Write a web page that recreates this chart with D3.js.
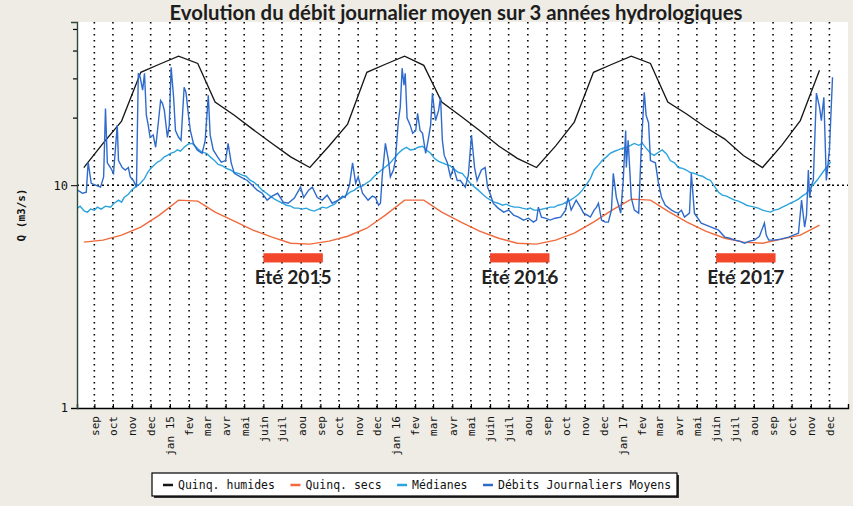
<!DOCTYPE html>
<html>
<head>
<meta charset="utf-8">
<script src="https://cdn.jsdelivr.net/npm/d3@7"></script>
<style>
  body { margin: 0; background: #eeece5; }
  svg { display: block; }
</style>
</head>
<body>
<div id="chart"></div>
<script>

// month labels on the x axis
const monthNames = ['jan', 'fev', 'mar', 'avr', 'mai', 'juin', 'juil', 'aou', 'sep', 'oct', 'nov', 'dec'];
const summers = [2015, 2016, 2017];

// quinquennial envelopes, one value per mid-month
const envelopeDates = [
  '2014-08-15', '2014-09-15', '2014-10-15', '2014-11-15', '2014-12-15', '2015-01-15', '2015-02-15', '2015-03-15',
  '2015-04-15', '2015-05-15', '2015-06-15', '2015-07-15', '2015-08-15', '2015-09-15', '2015-10-15', '2015-11-15',
  '2015-12-15', '2016-01-15', '2016-02-15', '2016-03-15', '2016-04-15', '2016-05-15', '2016-06-15', '2016-07-15',
  '2016-08-15', '2016-09-15', '2016-10-15', '2016-11-15', '2016-12-15', '2017-01-15', '2017-02-15', '2017-03-15',
  '2017-04-15', '2017-05-15', '2017-06-15', '2017-07-15', '2017-08-15', '2017-09-15', '2017-10-15', '2017-11-15'
];
const quinqHumides = [
  12.0, 15.4, 19.4, 32.1, 34.9, 37.9, 35.2, 23.6, 20.6, 17.8, 15.4, 13.4,
  12.0, 15.0, 18.8, 32.1, 34.9, 37.9, 34.5, 23.6, 20.4, 17.6, 15.0, 13.2,
  12.0, 15.0, 19.2, 32.1, 34.9, 37.9, 35.2, 23.6, 20.8, 18.2, 16.1, 13.6,
  12.0, 15.1, 19.5, 32.8
];
const quinqSecs = [
  5.55, 5.67, 5.97, 6.48, 7.34, 8.57, 8.48, 7.57, 6.89, 6.28, 5.85, 5.49,
  5.44, 5.61, 5.90, 6.41, 7.34, 8.57, 8.57, 7.57, 6.83, 6.22, 5.78, 5.49,
  5.44, 5.67, 6.09, 6.83, 7.73, 8.66, 8.57, 7.65, 6.83, 6.22, 5.78, 5.55,
  5.49, 5.73, 5.97, 6.62
];

// days counted from 1 Sep 2014
const recordStart = '2014-09-01';

const medianDays = [
  -27, -23, -16, -11, -6, 0, 5, 11, 18, 26, 32, 39, 44, 48, 55, 60, 66, 73, 78, 81, 86, 90, 95, 102, 107, 113,
  118, 123, 129, 134, 139, 145, 152, 158, 163, 168, 174, 181, 187, 194, 200, 207, 213, 220, 226, 233, 239, 245,
  252, 258, 265, 271, 278, 284, 291, 297, 304, 310, 317, 323, 329, 336, 342, 349, 355, 362, 368, 375, 381, 388,
  394, 401, 407, 413, 420, 426, 433, 439, 446, 452, 459, 465, 472, 478, 484, 491, 497, 504, 510, 517, 523, 530,
  536, 543, 549, 556, 562, 568, 575, 581, 588, 594, 601, 607, 614, 620, 627, 633, 640, 646, 652, 659, 665, 672,
  678, 685, 691, 698, 704, 710, 717, 723, 730, 736, 743, 749, 756, 762, 769, 775, 782, 788, 795, 801, 807, 814,
  820, 827, 833, 840, 846, 853, 859, 866, 872, 879, 885, 891, 898, 904, 911, 917, 924, 930, 937, 943, 950, 956,
  962, 969, 975, 982, 988, 995, 1001, 1008, 1014, 1021, 1027, 1034, 1040, 1047, 1053, 1059, 1066, 1072, 1079,
  1085, 1092, 1098, 1105, 1111, 1118, 1124, 1131, 1137, 1143, 1150, 1156, 1163, 1169, 1176, 1182, 1189
];
const medianValues = [
  7.89, 8.05, 7.65, 7.57, 7.81, 7.73, 7.97, 7.81, 8.05, 7.97, 8.30, 8.57, 8.39, 8.8, 9.11, 9.5, 9.8, 10.1, 10.5, 10.7, 11.4, 11.8, 12.2, 12.7, 12.9, 13.4,
  13.6, 13.9, 14.06, 14.4, 14.2, 14.8, 15.3, 15.4, 14.96, 14.5, 14.06, 13.9, 13.4, 12.9, 12.4, 12.2, 11.9, 11.7, 11.4, 11.3, 11.1, 10.97,
  10.5, 10.3, 9.9, 9.5, 9.2, 8.93, 8.66, 8.48, 8.30, 8.13, 8.05, 7.89, 7.89, 7.81, 7.89, 7.73, 7.65, 7.81, 7.97, 7.89, 8.05, 8.22,
  8.57, 8.8, 9.02, 9.3, 9.5, 9.8, 9.9, 10.2, 10.5, 10.97, 11.4, 11.8, 12.2, 12.6, 13.2, 13.9, 14.4, 14.8, 14.4, 14.5, 14.8, 14.96,
  14.4, 13.9, 13.2, 12.8, 12.6, 12.4, 12.2, 11.8, 11.4, 11.3, 10.7, 10.2, 9.8, 9.5, 9.11, 8.8, 8.57, 8.39, 8.30, 8.13, 8.22, 8.05,
  7.97, 7.97, 7.89, 7.81, 7.89, 7.73, 7.73, 7.81, 7.89, 7.97, 7.97, 8.13, 8.22, 8.39, 8.57, 8.8, 9.11, 9.5, 10.1, 10.7, 11.7, 12.3,
  12.9, 13.4, 13.9, 14.2, 14.4, 14.66, 14.8, 15.1, 15.4, 15.1, 15.4, 14.66, 13.9, 13.6, 14.06, 14.4, 13.8, 12.9, 12.6, 12.0, 11.9, 11.7,
  11.4, 11.3, 11.1, 10.97, 10.7, 10.5, 9.9, 9.3, 9.02, 8.93, 8.75, 8.57, 8.48, 8.30, 8.13, 8.05, 7.97, 7.89, 7.73,
  7.65, 7.57, 7.73, 7.81, 7.97, 8.13, 8.30, 8.48, 8.66, 8.93, 9.2, 9.7, 10.2, 10.7, 11.4, 12.0, 12.7
];

const flowDays = [
  -27, -19, -13, -10, -5, 2, 10, 15, 18, 21, 26, 31, 37, 39, 45, 50, 55, 58, 63, 68, 71, 74, 78, 81, 84, 87, 90, 95,
  99, 102, 107, 110, 113, 118, 121, 124, 128, 131, 136, 140, 145, 148, 152, 155, 160, 166, 174, 179, 184, 187, 192,
  199, 205, 212, 216, 221, 226, 236, 247, 255, 263, 271, 279, 287, 296, 305, 313, 323, 333, 338, 346, 352, 360,
  368, 376, 384, 394, 401, 405, 412, 417, 422, 426, 433, 442, 449, 454, 459, 462, 465, 470, 475, 478, 483, 486,
  491, 494, 497, 500, 502, 505, 510, 514, 519, 522, 526, 530, 535, 539, 543, 546, 549, 551, 556, 559, 562, 565,
  570, 575, 580, 586, 591, 599, 604, 609, 614, 618, 625, 631, 635, 640, 644, 652, 661, 669, 677, 685, 693, 701,
  709, 714, 717, 722, 728, 736, 744, 753, 761, 765, 770, 778, 785, 790, 796, 801, 807, 811, 814, 819, 825, 830,
  835, 838, 843, 850, 854, 858, 859, 862, 867, 872, 879, 883, 888, 891, 895, 898, 906, 911, 916, 922, 932, 938,
  943, 948, 953, 961, 964, 969, 980, 988, 996, 1008, 1018, 1026, 1034, 1042, 1050, 1058, 1066, 1074, 1082, 1085,
  1089, 1098, 1108, 1121, 1129, 1137, 1142, 1147, 1150, 1153, 1155, 1158, 1161, 1166, 1171, 1174, 1178, 1182,
  1187, 1192
];
const flowValues = [
  9.5, 9.2, 9.3, 12.7, 10.2, 10.0, 9.8, 10.9, 22.1, 12.6, 12.0, 11.3, 18.6, 12.9, 12.0, 11.7, 12.0, 10.9, 10.5, 9.8, 31.8, 30.5, 26.7, 31.8, 20.6, 18.6, 16.4, 16.8,
  14.8, 17.6, 24.0, 23.3, 21.7, 16.4, 18.6, 33.8, 24.8, 17.6, 16.4, 15.9, 27.5, 26.1, 20.6, 17.6, 15.4, 14.4, 13.9, 15.9, 25.3, 16.8, 14.4,
  13.4, 12.7, 12.9, 15.4, 12.6, 11.3, 10.9, 10.5, 10.0, 9.5, 9.2, 8.57, 8.93, 9.2, 8.39, 8.30, 8.75, 9.8, 8.8, 9.5, 9.8, 8.8,
  8.57, 9.02, 8.30, 8.57, 8.93, 8.8, 10.0, 12.6, 10.2, 10.9, 9.2, 8.57, 8.93, 8.8, 8.13, 8.30, 11.1, 15.4, 12.9, 10.9, 11.7, 12.9,
  19.5, 22.4, 33.5, 28.1, 31.8, 20.0, 18.6, 17.1, 17.6, 21.0, 17.6, 17.1, 13.9, 15.9, 18.6, 25.9, 21.7, 19.5, 21.7, 24.8, 15.9, 13.6,
  12.6, 10.9, 12.0, 10.5, 10.5, 9.8, 11.1, 16.8, 12.0, 10.5, 11.7, 12.0, 9.8, 9.02, 8.30, 7.89, 7.57, 7.73, 7.34, 7.19, 6.97, 7.11,
  6.83, 6.97, 7.97, 7.19, 7.11, 6.97, 7.11, 7.19, 7.73, 8.8, 7.73, 8.57, 7.97, 7.49, 7.34, 7.19, 7.73, 7.97, 8.30, 6.97, 6.83, 6.83,
  7.73, 11.3, 8.8, 7.49, 10.5, 17.6, 12.0, 15.9, 8.8, 7.73, 7.49, 14.4, 26.1, 20.6, 19.0, 12.9, 12.6, 10.2, 8.8, 8.13, 7.73, 7.57,
  7.49, 7.73, 7.19, 7.49, 11.3, 7.49, 6.76, 6.62, 6.48, 6.28, 5.85, 5.78, 5.67, 5.61, 5.49, 5.61, 5.67, 5.90, 6.76, 5.97,
  5.67, 5.67, 5.73, 5.85, 5.97, 6.09, 8.57, 6.48, 7.34, 11.7, 8.8, 10.0, 10.5, 25.9, 22.4, 19.5, 24.8, 10.5,
  14.4, 30.5
];

const legendLabels = ['Quinq. humides', 'Quinq. secs', 'Médianes', 'Débits Journaliers Moyens'];
const seriesColors = ['#151515', '#f06a3c', '#2ba3df', '#2f6bcc'];

const width = 853;
const height = 506;
const plot = { left: 77, right: 848, top: 22, bottom: 408 };
const mono = '"DejaVu Sans Mono", "Liberation Mono", monospace';
const sans = 'Lato, "Open Sans", sans-serif';

const parseDate = d3.timeParse('%Y-%m-%d');
const start = parseDate(recordStart);

const envelope = envelopeDates.map((d, i) => ({ date: parseDate(d), hum: quinqHumides[i], sec: quinqSecs[i] }));
const medians = medianDays.map((d, i) => ({ date: d3.timeDay.offset(start, d), value: medianValues[i] }));
const flows = flowDays.map((d, i) => ({ date: d3.timeDay.offset(start, d), value: flowValues[i] }));

const svg = d3.select('#chart')
              .append('svg')
              .attr('width', width)
              .attr('height', height);

svg.append('rect')
   .attr('width', width)
   .attr('height', height)
   .attr('fill', '#eeece5');

const xScale = d3.scaleTime()
                 .domain([new Date(2014, 7, 4), new Date(2017, 11, 31)])
                 .range([plot.left, plot.right]);

const yScale = d3.scaleLog()
                 .domain([1, 54])
                 .range([plot.bottom, plot.top]);

svg.append('rect')
   .attr('x', plot.left)
   .attr('y', plot.top)
   .attr('width', plot.right - plot.left)
   .attr('height', plot.bottom - plot.top)
   .attr('fill', '#ffffff');

const months = d3.timeMonth.range(new Date(2014, 8, 1), new Date(2017, 11, 2));

// dotted grid
svg.append('g')
   .selectAll('line')
   .data(months)
   .enter()
   .append('line')
   .attr('x1', (d) => xScale(d))
   .attr('x2', (d) => xScale(d))
   .attr('y1', plot.top)
   .attr('y2', plot.bottom)
   .attr('stroke', '#000')
   .attr('stroke-width', 1.6)
   .attr('stroke-dasharray', '1.6,4.4');

svg.append('line')
   .attr('x1', plot.left)
   .attr('x2', plot.right)
   .attr('y1', yScale(10))
   .attr('y2', yScale(10))
   .attr('stroke', '#000')
   .attr('stroke-width', 1.4)
   .attr('stroke-dasharray', '2,3');

// summer markers
const summerBars = svg.append('g');
summers.forEach((yr) => {
  const x0 = xScale(new Date(yr, 5, 1));
  const x1 = xScale(new Date(yr, 8, 5));
  summerBars.append('rect')
            .attr('x', x0)
            .attr('y', yScale(4.95))
            .attr('width', x1 - x0)
            .attr('height', yScale(4.5) - yScale(4.95))
            .attr('fill', '#f2472b');
  const label = summerBars.append('text')
            .attr('x', (x0 + x1) / 2)
            .attr('y', yScale(3.6))
            .attr('text-anchor', 'middle')
            .style('font-family', sans)
            .style('font-weight', 'bold')
            .style('font-size', '18px')
            .attr('fill', '#222')
            .text('Eté ' + yr);
  const w = label.node().getComputedTextLength();
  label.style('font-size', (18 * 77 / w).toFixed(2) + 'px');
});

// series
const line = (key) => d3.line()
                       .x((d) => xScale(d.date))
                       .y((d) => yScale(d[key]));

svg.append('path')
   .datum(envelope)
   .attr('d', line('sec'))
   .attr('fill', 'none')
   .attr('stroke', seriesColors[1])
   .attr('stroke-width', 1.4);

svg.append('path')
   .datum(envelope)
   .attr('d', line('hum'))
   .attr('fill', 'none')
   .attr('stroke', seriesColors[0])
   .attr('stroke-width', 1.3);

svg.append('path')
   .datum(medians)
   .attr('d', line('value'))
   .attr('fill', 'none')
   .attr('stroke', seriesColors[2])
   .attr('stroke-width', 1.4);

svg.append('path')
   .datum(flows)
   .attr('d', line('value'))
   .attr('fill', 'none')
   .attr('stroke', seriesColors[3])
   .attr('stroke-width', 1.4);

// axes
const xAxis = d3.axisBottom(xScale)
                .tickValues(months)
                .tickSize(-4)
                .tickFormat((d) => {
                  const name = monthNames[d.getMonth()];
                  return d.getMonth() === 0 ? name + ' ' + d3.timeFormat('%y')(d) : name;
                });

const gx = svg.append('g')
   .attr('transform', 'translate(0, ' + plot.bottom + ')')
   .call(xAxis)
   .attr('id', 'x-axis');
gx.select('.domain').attr('stroke', '#000').attr('stroke-width', 1.4);
gx.selectAll('.tick line').attr('stroke-width', 1.2);
gx.selectAll('text')
  .attr('transform', 'rotate(-90)')
  .attr('x', -8)
  .attr('y', 0)
  .attr('dy', '0.35em')
  .style('text-anchor', 'end')
  .style('font-family', mono)
  .style('font-size', '11px')
  .attr('fill', '#111');

const yAxis = d3.axisLeft(yScale)
                .tickValues([1, 10])
                .tickFormat(d3.format('d'))
                .tickSize(6)
                .tickPadding(3);

const gy = svg.append('g')
   .attr('transform', 'translate(' + plot.left + ', 0)')
   .call(yAxis)
   .attr('id', 'y-axis');
gy.select('.domain').attr('stroke', '#2c4a3a').attr('stroke-width', 1.4);
gy.selectAll('text')
  .style('font-family', mono)
  .style('font-size', '12px')
  .attr('fill', '#111');

gy.selectAll('.minor')
  .data([20, 30, 40, 50])
  .enter()
  .append('line')
  .attr('class', 'minor')
  .attr('x1', -4)
  .attr('x2', 0)
  .attr('y1', (d) => yScale(d))
  .attr('y2', (d) => yScale(d))
  .attr('stroke', '#000')
  .attr('stroke-width', 1.2);

svg.append('text')
   .attr('transform', 'translate(25, 215) rotate(-90)')
   .attr('text-anchor', 'middle')
   .style('font-family', mono)
   .style('font-weight', 'bold')
   .style('font-size', '11px')
   .attr('fill', '#111')
   .text('Q (m3/s)');

// title
const title = svg.append('text')
   .attr('x', 456)
   .attr('y', 20)
   .attr('text-anchor', 'middle')
   .style('font-family', sans)
   .style('font-weight', 'bold')
   .style('font-size', '18px')
   .attr('fill', '#1d1d1d')
   .text('Evolution du débit journalier moyen sur 3 années hydrologiques');
const tw = title.node().getComputedTextLength();
title.style('font-size', (18 * 573 / tw).toFixed(2) + 'px');

// legend
const legend = svg.append('g');
legend.append('rect')
      .attr('x', 154)
      .attr('y', 475)
      .attr('width', 525)
      .attr('height', 23)
      .attr('fill', '#333');
legend.append('rect')
      .attr('x', 152)
      .attr('y', 473)
      .attr('width', 525)
      .attr('height', 23)
      .attr('fill', '#fff')
      .attr('stroke', '#000')
      .attr('stroke-width', 1.2);

let lx = 163;
legendLabels.forEach((name, i) => {
  legend.append('line')
        .attr('x1', lx)
        .attr('x2', lx + 10)
        .attr('y1', 485)
        .attr('y2', 485)
        .attr('stroke', seriesColors[i])
        .attr('stroke-width', 2.5);
  const t = legend.append('text')
        .attr('x', lx + 15)
        .attr('y', 489)
        .style('font-family', mono)
        .style('font-size', '11.5px')
        .attr('fill', '#111')
        .text(name);
  lx += 15 + t.node().getComputedTextLength() + 15.5;
});

</script>
</body>
</html>
